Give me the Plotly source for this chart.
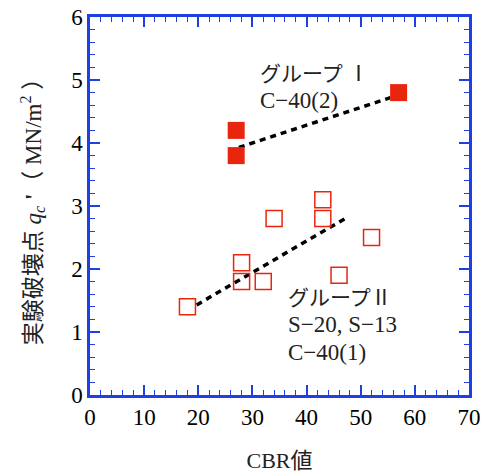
import plotly.graph_objects as go

g1_x = [27, 27, 57]
g1_y = [4.2, 3.8, 4.8]
g2_x = [18, 28, 28, 32, 34, 43, 43, 52, 46]
g2_y = [1.4, 2.1, 1.8, 1.8, 2.8, 3.1, 2.8, 2.5, 1.9]
fit1_x = [27.5, 55.5]
fit1_y = [3.93, 4.72]
fit2_x = [19.7, 47.1]
fit2_y = [1.43, 2.80]

FONT = "Liberation Serif, Noto Sans CJK JP, serif"
AX = "#1f3fe0"
RED = "#e8260e"

fig = go.Figure()
fig.add_trace(go.Scatter(x=fit1_x, y=fit1_y, mode="lines",
                         line=dict(color="black", width=3.5, dash="6px,5px"), showlegend=False))
fig.add_trace(go.Scatter(x=fit2_x, y=fit2_y, mode="lines",
                         line=dict(color="black", width=3.5, dash="6px,5px"), showlegend=False))
fig.add_trace(go.Scatter(x=g1_x, y=g1_y, mode="markers",
                         marker=dict(symbol="square", size=17, color=RED, line=dict(width=0)),
                         showlegend=False))
fig.add_trace(go.Scatter(x=g2_x, y=g2_y, mode="markers",
                         marker=dict(symbol="square-open", size=16, color=RED, line=dict(width=1.5, color=RED)),
                         showlegend=False))

BIG = '<span style="font-size:23px">'
fig.add_annotation(x=31.0, y=4.88, xref="x", yref="y",
                   text="グループ Ⅰ<br>" + BIG + "C−40(2)</span>", showarrow=False,
                   xanchor="left", yanchor="middle", align="left",
                   font=dict(family=FONT, size=21, color="#222"))
fig.add_annotation(x=36.2, y=1.11, xref="x", yref="y",
                   text="グループⅡ<br>" + BIG + "S−20, S−13</span><br>" + BIG + "C−40(1)</span>",
                   showarrow=False, xanchor="left", yanchor="middle", align="left",
                   font=dict(family=FONT, size=21, color="#222"))

axcommon = dict(showgrid=False, zeroline=False, showline=True, linecolor=AX, linewidth=2.5,
                mirror="ticks", ticks="inside", tickcolor=AX, tickwidth=1.5, ticklen=10,
                automargin=False,
                tickfont=dict(family=FONT, size=23, color="black"))
fig.update_xaxes(range=[0, 70], dtick=10, tick0=0,
                 minor=dict(dtick=2, ticks="inside", ticklen=5, tickcolor=AX, tickwidth=1.2),
                 title=dict(text="CBR値", font=dict(family=FONT, size=22, color="#222"), standoff=24),
                 **axcommon)
fig.update_yaxes(range=[0, 6], dtick=1, tick0=0,
                 minor=dict(dtick=0.2, ticks="inside", ticklen=5, tickcolor=AX, tickwidth=1.2),
                 title=dict(text="実験破壊点 <i>q</i><sub><i>c</i></sub> <b>'</b>（ MN/m<sup>2</sup> ）",
                            font=dict(family=FONT, size=23, color="#222"), standoff=24),
                 **axcommon)
fig.update_layout(width=483, height=476, margin=dict(l=90, r=14, t=17, b=81),
                  plot_bgcolor="white", paper_bgcolor="white")
fig.write_html("out.html")
